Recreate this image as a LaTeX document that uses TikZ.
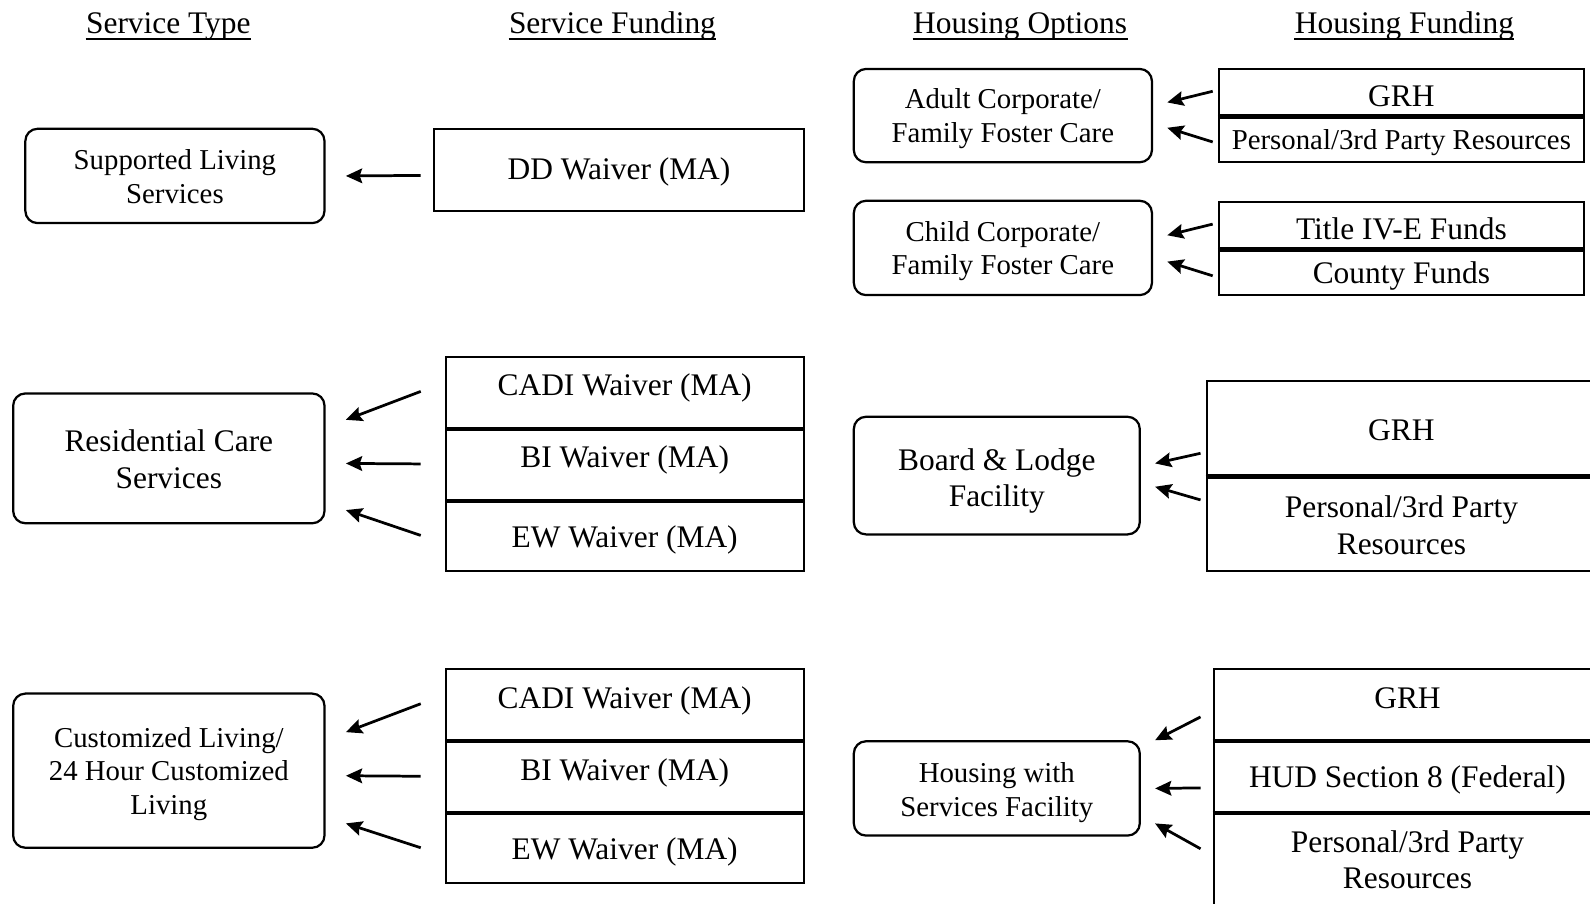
\documentclass[tikz,border=0pt]{standalone}
\usepackage{fontspec}
\setmainfont{Liberation Serif}
\usetikzlibrary{arrows.meta}
\newcommand{\fLg}{\fontsize{15.5}{18}\selectfont}
\newcommand{\fSm}{\fontsize{14.2}{16.5}\selectfont}
\begin{document}
\begin{tikzpicture}[x=0.5pt,y=-0.5pt,
  hdr/.style={font=\fLg, inner sep=0pt, anchor=base},
  uline/.style={line width=1pt},
  rbox/.style={draw, line width=1.1pt, rounded corners=6pt, inner sep=0pt},
  fbox/.style={draw, line width=1.1pt, inner sep=0pt},
  lt/.style={font=\fLg, inner sep=0pt, align=center},
  st/.style={font=\fSm, inner sep=0pt, align=center},
  divl/.style={line width=2pt},
  arr/.style={-{Stealth[length=8pt,width=7.2pt,inset=1.2pt]}, line width=1.35pt}]
\useasboundingbox (0,0) rectangle (1568,890.5);
\clip (0,0) rectangle (1568,890.5);
\fill[white] (0,0) rectangle (1568,890.5);

% headers
\node[hdr] (h1) at (166,33) {Service Type};
\node[hdr] (h2) at (604,33) {Service Funding};
\node[hdr] (h3) at (1006,33) {Housing Options};
\node[hdr] (h4) at (1385,33) {Housing Funding};
\foreach \h in {h1,h2,h3,h4}
  \draw[uline] ([yshift=-2.75pt]\h.base west) -- ([yshift=-2.75pt]\h.base east);

% service types
\node[rbox, minimum width=147.5pt, minimum height=46.5pt] (sup) at (172.5,173.5) {};
\node[st] (supt) at (172.5,174) {Supported Living\\Services};
\node[rbox, minimum width=153.5pt, minimum height=64pt] (res) at (166.5,452) {};
\node[lt] (rest) at (166.5,453) {Residential Care\\Services};
\node[rbox, minimum width=153.5pt, minimum height=76pt] (cus) at (166.5,760) {};
\node[st] (cust) at (166.5,763) {Customized Living/\\24 Hour Customized\\Living};

% service funding
\node[fbox, minimum width=182.5pt, minimum height=40.5pt] (dd) at (610.5,167.5) {};
\node[lt] (ddt) at (610.5,169.5) {DD Waiver (MA)};

\node[fbox, minimum width=176.5pt, minimum height=35pt] (c21) at (616.5,387) {};
\node[fbox, minimum width=176.5pt, minimum height=35.5pt] (c22) at (616.5,457.5) {};
\node[fbox, minimum width=176.5pt, minimum height=35pt] (c23) at (616.5,528) {};
\node[lt] (t21) at (616,383) {CADI Waiver (MA)};
\node[lt] (t22) at (616,454) {BI Waiver (MA)};
\node[lt] (t23) at (616,532) {EW Waiver (MA)};
\draw[divl] (c21.south west) -- (c21.south east);
\draw[divl] (c22.south west) -- (c22.south east);

\node[fbox, minimum width=176.5pt, minimum height=35pt] (c31) at (616.5,695) {};
\node[fbox, minimum width=176.5pt, minimum height=35.5pt] (c32) at (616.5,765.5) {};
\node[fbox, minimum width=176.5pt, minimum height=35pt] (c33) at (616.5,836) {};
\node[lt] (t31) at (616,691) {CADI Waiver (MA)};
\node[lt] (t32) at (616,762) {BI Waiver (MA)};
\node[lt] (t33) at (616,840) {EW Waiver (MA)};
\draw[divl] (c31.south west) -- (c31.south east);
\draw[divl] (c32.south west) -- (c32.south east);

% housing options
\node[rbox, minimum width=147pt, minimum height=46pt] (adult) at (989,114) {};
\node[st] (adultt) at (989,117) {Adult Corporate/\\Family Foster Care};
\node[rbox, minimum width=147pt, minimum height=46.5pt] (child) at (989,244.5) {};
\node[st] (childt) at (989,247.5) {Child Corporate/\\Family Foster Care};
\node[rbox, minimum width=141pt, minimum height=58pt] (bl) at (983,469) {};
\node[lt] (blt) at (983,474.5) {Board \& Lodge\\Facility};
\node[rbox, minimum width=141pt, minimum height=46.5pt] (hws) at (983,777.5) {};
\node[st] (hwst) at (983,781.5) {Housing with\\Services Facility};

% housing funding
\node[fbox, minimum width=180pt, minimum height=23pt] (f1a) at (1382,91) {};
\node[fbox, minimum width=180pt, minimum height=23pt] (f1b) at (1382,137) {};
\node[lt] (f1at) at (1382,95) {GRH};
\node[st] (f1bt) at (1382,141) {Personal/3rd Party Resources};
\draw[divl] (f1a.south west) -- (f1a.south east);
\node[fbox, minimum width=180pt, minimum height=23pt] (f2a) at (1382,222) {};
\node[fbox, minimum width=180pt, minimum height=23pt] (f2b) at (1382,268) {};
\node[lt] (f2at) at (1382,226) {Title IV-E Funds};
\node[lt] (f2bt) at (1382,272.5) {County Funds};
\draw[divl] (f2a.south west) -- (f2a.south east);

\node[fbox, minimum width=210pt, minimum height=46.5pt] (f3a) at (1400,422.5) {};
\node[fbox, minimum width=210pt, minimum height=47pt] (f3b) at (1400,516) {};
\node[lt] (t3a) at (1382,424) {GRH};
\node[lt] (t3b) at (1382,518) {Personal/3rd Party\\Resources};
\draw[divl] (f3a.south west) -- (f3a.south east);

\node[fbox, minimum width=206.5pt, minimum height=35pt] (f4a) at (1403.5,695) {};
\node[fbox, minimum width=206.5pt, minimum height=35.5pt] (f4b) at (1403.5,765.5) {};
\node[fbox, minimum width=206.5pt, minimum height=59.5pt] (f4c) at (1403.5,860.5) {};
\node[lt] (t4a) at (1388,689) {GRH};
\node[lt] (t4b) at (1388,769) {HUD Section 8 (Federal)};
\node[lt] (t4c) at (1388,848) {Personal/3rd Party\\Resources};
\draw[divl] (f4a.south west) -- (f4a.south east);
\draw[divl] (f4b.south west) -- (f4b.south east);

% arrows: service funding -> service type
\draw[arr] ([xshift=-6pt,yshift=-2.75pt]dd.west) -- ([xshift=10pt]sup.east);
\draw[arr] ([xshift=-12pt,yshift=0.5pt]c21.west) -- ([xshift=10pt,yshift=19pt]res.east);
\draw[arr] ([xshift=-12pt]c22.west) -- ([xshift=10pt,yshift=-2.5pt]res.east);
\draw[arr] ([xshift=-12pt]c23.west) -- ([xshift=10pt,yshift=-25.5pt]res.east);
\draw[arr] ([xshift=-12pt,yshift=0.5pt]c31.west) -- ([xshift=10pt,yshift=19pt]cus.east);
\draw[arr] ([xshift=-12pt]c32.west) -- ([xshift=10pt,yshift=-2.5pt]cus.east);
\draw[arr] ([xshift=-12pt]c33.west) -- ([xshift=10pt,yshift=-26pt]cus.east);

% arrows: housing funding -> housing options
\draw[arr] ([xshift=-2.5pt,yshift=0.5pt]f1a.west) -- ([xshift=7pt,yshift=6.5pt]adult.east);
\draw[arr] ([xshift=-2.5pt,yshift=-1.5pt]f1b.west) -- ([xshift=7pt,yshift=-6pt]adult.east);
\draw[arr] ([xshift=-2.5pt,yshift=0.5pt]f2a.west) -- ([xshift=7pt,yshift=6.25pt]child.east);
\draw[arr] ([xshift=-2.5pt,yshift=-2pt]f2b.west) -- ([xshift=7pt,yshift=-6.75pt]child.east);
\draw[arr] ([xshift=-2.5pt,yshift=-12.25pt]f3a.west) -- ([xshift=7pt,yshift=6pt]bl.east);
\draw[arr] ([xshift=-2.5pt,yshift=11.5pt]f3b.west) -- ([xshift=7pt,yshift=-5.5pt]bl.east);
\draw[arr] ([xshift=-6pt,yshift=-6pt]f4a.west) -- ([xshift=7pt,yshift=23.75pt]hws.east);
\draw[arr] ([xshift=-6pt,yshift=-5.75pt]f4b.west) -- ([xshift=7pt]hws.east);
\draw[arr] ([xshift=-6pt,yshift=11.75pt]f4c.west) -- ([xshift=7pt,yshift=-17.25pt]hws.east);
\end{tikzpicture}
\end{document}
